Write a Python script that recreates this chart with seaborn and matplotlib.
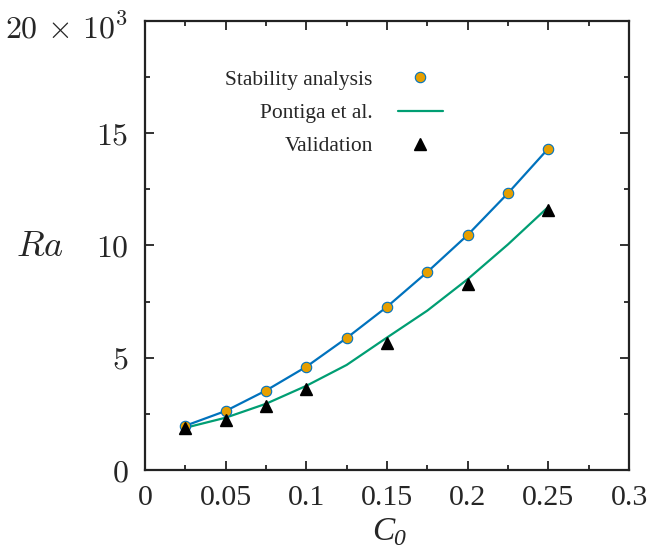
import numpy as np
import pandas as pd
import matplotlib
matplotlib.use("Agg")
import matplotlib.pyplot as plt
from matplotlib.ticker import MultipleLocator, FixedLocator, FixedFormatter
from matplotlib.lines import Line2D
from matplotlib.transforms import ScaledTranslation
import seaborn as sns

# ---- data (Ra in units of 10^3) ----
c0_stab = [0.025, 0.05, 0.075, 0.1, 0.125, 0.15, 0.175, 0.2, 0.225, 0.25]
ra_stab = [1.97, 2.63, 3.54, 4.60, 5.88, 7.27, 8.82, 10.47, 12.33, 14.32]

c0_pont = [0.025, 0.05, 0.075, 0.1, 0.125, 0.15, 0.175, 0.2, 0.225, 0.25]
ra_pont = [1.88, 2.33, 2.95, 3.75, 4.68, 5.90, 7.10, 8.50, 10.05, 11.72]

c0_val = [0.025, 0.05, 0.075, 0.1, 0.15, 0.2, 0.25]
ra_val = [1.86, 2.23, 2.86, 3.62, 5.64, 8.28, 11.58]

ytick_vals = [0, 5, 10, 15, 20]
ytick_labels = [r"$0$", r"$5$", r"$10$", r"$15$", r"$20\,\times\,10^{3}$"]
xtick_vals = [0, 0.05, 0.1, 0.15, 0.2, 0.25, 0.3]
xtick_labels = ["0", "0.05", "0.1", "0.15", "0.2", "0.25", "0.3"]

BLUE = "#0072BD"
ORANGE = "#E69F00"
GREEN = "#009E73"

sns.set_style("ticks")
plt.rcParams["font.family"] = ["Liberation Serif", "DejaVu Serif"]
plt.rcParams["mathtext.fontset"] = "custom"
plt.rcParams["mathtext.rm"] = "Liberation Serif"
plt.rcParams["mathtext.it"] = "Liberation Serif:italic"

fig = plt.figure(figsize=(6.52, 5.49), dpi=100)
ax = fig.add_axes([145 / 652, 1 - 470 / 549, 484 / 652, 449 / 549])

df_s = pd.DataFrame({"c0": c0_stab, "ra": ra_stab})
df_p = pd.DataFrame({"c0": c0_pont, "ra": ra_pont})
df_v = pd.DataFrame({"c0": c0_val, "ra": ra_val})

LW = 1.6
sns.lineplot(data=df_p, x="c0", y="ra", color=GREEN, lw=LW, ax=ax, zorder=2)
sns.lineplot(data=df_s, x="c0", y="ra", color=BLUE, lw=LW, ax=ax, zorder=3)
ax.plot(df_s["c0"], df_s["ra"], ls="none", marker="o", ms=7.5,
        mfc=ORANGE, mec=BLUE, mew=0.8, zorder=4)
ax.plot(df_v["c0"], df_v["ra"], ls="none", marker="^", ms=8,
        mfc="black", mec="black", zorder=5)

ax.set_xlim(0, 0.3)
ax.set_ylim(0, 20)

ax.xaxis.set_major_locator(FixedLocator(xtick_vals))
ax.xaxis.set_major_formatter(FixedFormatter(xtick_labels))
ax.xaxis.set_minor_locator(MultipleLocator(0.025))
ax.yaxis.set_major_locator(FixedLocator(ytick_vals))
ax.yaxis.set_major_formatter(FixedFormatter(ytick_labels))
ax.yaxis.set_minor_locator(MultipleLocator(2.5))

ax.tick_params(which="both", direction="in", top=True, right=True,
               color="#222222", width=1.3)
ax.tick_params(which="major", length=6.5)
ax.tick_params(which="minor", length=3.5)
ax.tick_params(axis="x", which="major", labelsize=21.5, pad=10.5)
ax.tick_params(axis="y", which="major", labelsize=23, pad=12)
ylabs = ax.get_yticklabels()
for lab in ylabs:
    lab.set_math_fontfamily("cm")
top_lab = ylabs[-1]
top_lab.set_transform(top_lab.get_transform() + ScaledTranslation(0, -3.5 / 72, fig.dpi_scale_trans))

for sp in ax.spines.values():
    sp.set_visible(True)
    sp.set_linewidth(1.6)
    sp.set_color("#222222")

ax.set_xlabel("")
fig.text(372 / 652, 1 - 540 / 549, "C", fontsize=24, style="italic",
         ha="left", va="baseline")
fig.text(393 / 652, 1 - 545 / 549, "0", fontsize=17, style="italic",
         ha="left", va="baseline")

ax.set_ylabel(r"$Ra$", fontsize=26, rotation=0, math_fontfamily="cm")
ax.yaxis.set_label_coords((40 - 145) / 484, (470 - 247) / 449)
ax.yaxis.label.set_va("center")
ax.yaxis.label.set_ha("center")

handles = [
    Line2D([], [], ls="none", marker="o", ms=7.5, mfc=ORANGE, mec=BLUE, mew=0.8),
    Line2D([], [], color=GREEN, lw=LW),
    Line2D([], [], ls="none", marker="^", ms=8, mfc="black", mec="black"),
]
labels = ["Stability analysis", "Pontiga et al.", "Validation"]
leg = ax.legend(handles, labels, loc="center right", bbox_to_anchor=(443 / 652, 1 - 113 / 549),
                bbox_transform=fig.transFigure, frameon=False, markerfirst=False,
                fontsize=15.5, handlelength=2.1, handletextpad=1.16, labelspacing=0.62,
                borderpad=0, borderaxespad=0)

fig.savefig("out.png", dpi=100)
